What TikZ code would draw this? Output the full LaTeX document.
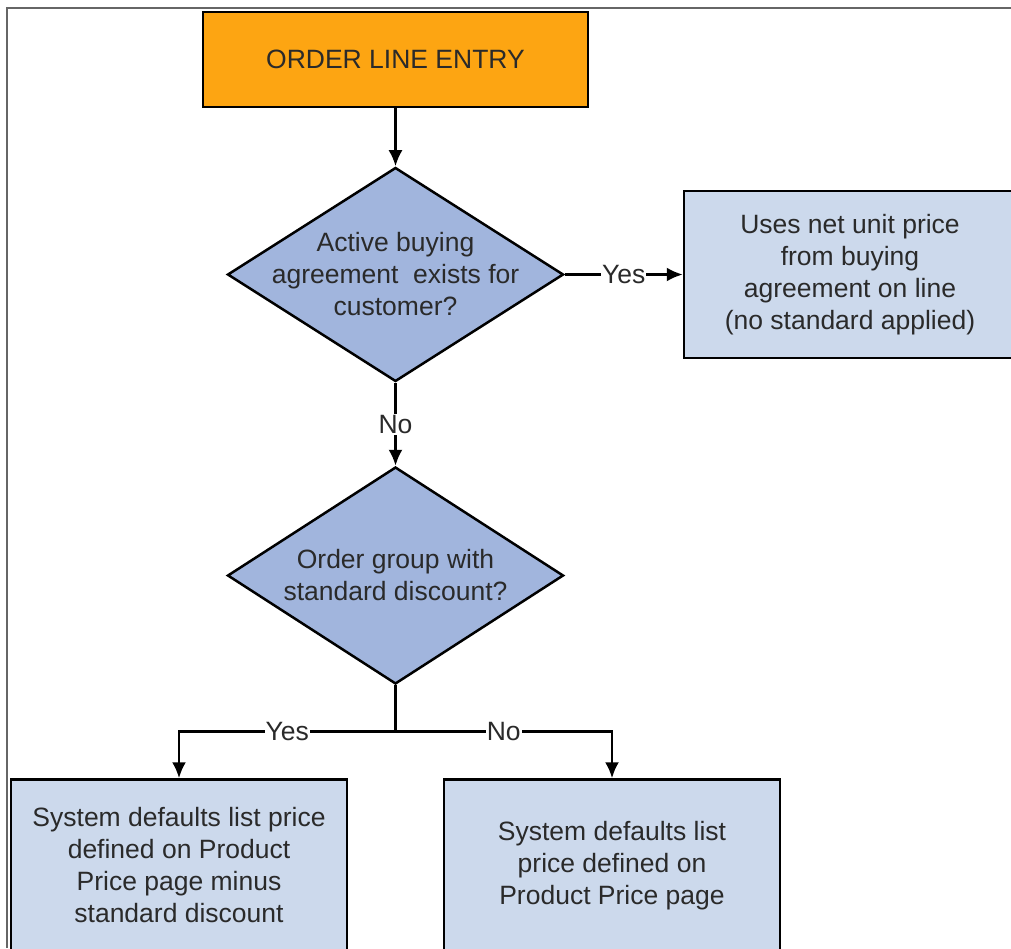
\documentclass[tikz,border=0pt]{standalone}
\usepackage{fontspec}
\setmainfont{Liberation Sans}
\usepackage{tikz}
\usetikzlibrary{positioning}
\usetikzlibrary{shapes.geometric,arrows.meta}
\definecolor{entryorange}{HTML}{FDA512}
\definecolor{decisionblue}{HTML}{A1B5DD}
\definecolor{blockblue}{HTML}{CCD9EC}
\definecolor{textgray}{HTML}{2A2A2A}
\tikzstyle{decision} = [diamond, draw, line width=2.5pt, fill=decisionblue, 
    align=center, text=textgray, inner sep=-40pt, shape aspect=1.57,
    minimum width=336pt, minimum height=214pt]
\tikzstyle{block} = [rectangle, draw, line width=2.5pt, fill=blockblue, 
    align=center, text=textgray, minimum width=336pt, minimum height=167pt]
\tikzstyle{entryblock} = [block, fill=entryorange, minimum width=385pt, minimum height=95pt]
\tikzstyle{line} = [draw, line width=2.5pt, -{Latex[length=16pt,width=14pt]}]
\tikzstyle{answer} = [fill=white, inner sep=1pt, text=textgray]

\begin{document}
\begin{tikzpicture}[node distance = 60pt, font=\fontsize{26.5}{32}\selectfont]
        \useasboundingbox (0,0) rectangle (1011pt,-948pt);
        \clip (0,0) rectangle (1011pt,-948pt);
        % frame
        \draw [line width=1.5pt, black!60] (7pt,-948pt) -- (7pt,-8pt) -- (1011pt,-8pt);
        % nodes
        \node [entryblock] (entry) at (395.5pt,-59.5pt) {ORDER LINE ENTRY};
        \node [decision, below=58pt of entry] (agree) {Active buying\\agreement\ \ exists for\\customer?};
        \node [block, right=118pt of agree, minimum width=332pt] (netprice) {Uses net unit price\\from buying\\agreement on line\\(no standard applied)};
        \node [decision, below=83pt of agree, minimum height=217pt] (discount) {Order group with\\standard discount?};
        \node [block, below=93pt of discount, xshift=-216.5pt, minimum height=172pt] (minusprice) {System defaults list price\\defined on Product\\Price page minus\\standard discount};
        \node [block, below=93pt of discount, xshift=216.5pt, minimum height=172pt] (listprice) {System defaults list\\price defined on\\Product Price page};
        \coordinate [below=46pt of discount] (split);
        % edges
        \path [line] (entry) -- (agree);
        \path [line] (agree) -- node[answer]{Yes} (netprice);
        \path [line] (agree) -- node[answer]{No} (discount);
        \draw [line width=2.5pt] (discount) -- (split);
        \path [line] (split) -| node[answer, pos=0.25]{Yes} (minusprice);
        \path [line] (split) -| node[answer, pos=0.25]{No} (listprice);
\end{tikzpicture}
\end{document}
